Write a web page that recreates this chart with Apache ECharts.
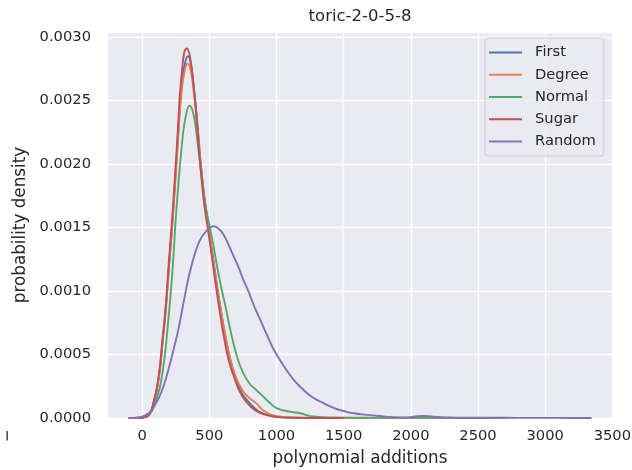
<!DOCTYPE html>
<html>
<head>
<meta charset="utf-8">
<script src="https://cdn.jsdelivr.net/npm/echarts@6/dist/echarts.min.js"></script>
<style>
html,body{margin:0;padding:0;background:#ffffff;}
#chart{width:632px;height:470px;}
</style>
</head>
<body>
<div id="chart"></div>
<script>
const chartTitle = 'toric-2-0-5-8';
const xLabel = 'polynomial additions';
const yLabel = 'probability density';
const seriesNames = ['First', 'Degree', 'Normal', 'Sugar', 'Random'];

const firstX = [-100,-50,0,40,88,125,150,175,200,229,261,294,320,340,360,385,410,435,465,500,530,560,590,620,655,695,740,790,830,870,930,1000,1100,1300,1700];
const firstY = [0,0,0.004e-3,0.014e-3,0.13e-3,0.33e-3,0.58e-3,0.85e-3,1.2e-3,1.6e-3,2.12e-3,2.62e-3,2.80e-3,2.85e-3,2.80e-3,2.60e-3,2.33e-3,2.02e-3,1.72e-3,1.46e-3,1.24e-3,1.02e-3,0.82e-3,0.64e-3,0.46e-3,0.32e-3,0.20e-3,0.13e-3,0.085e-3,0.05e-3,0.025e-3,0.01e-3,0.003e-3,0.001e-3,0];

const degreeX = [-100,-50,0,40,88,125,150,175,200,229,261,294,320,338,360,385,410,435,465,500,530,560,590,620,655,695,745,790,820,850,890,940,1000,1100,1300,1600,2000,2700];
const degreeY = [0,0,0.004e-3,0.014e-3,0.13e-3,0.33e-3,0.58e-3,0.85e-3,1.2e-3,1.6e-3,2.1e-3,2.58e-3,2.75e-3,2.79e-3,2.74e-3,2.56e-3,2.30e-3,2.00e-3,1.71e-3,1.46e-3,1.24e-3,1.02e-3,0.82e-3,0.64e-3,0.47e-3,0.33e-3,0.22e-3,0.165e-3,0.14e-3,0.115e-3,0.07e-3,0.035e-3,0.015e-3,0.005e-3,0.002e-3,0.001e-3,0.0005e-3,0];

const normalX = [-100,-50,0,50,100,150,190,224,256,299,325,353,380,410,440,467,500,530,560,590,620,657,707,750,800,850,900,950,1004,1100,1178,1252,1400,1800,2600];
const normalY = [0,0,0.003e-3,0.02e-3,0.13e-3,0.35e-3,0.72e-3,1.14e-3,1.66e-3,2.19e-3,2.38e-3,2.46e-3,2.40e-3,2.19e-3,1.92e-3,1.70e-3,1.52e-3,1.36e-3,1.18e-3,1.02e-3,0.88e-3,0.69e-3,0.48e-3,0.36e-3,0.27e-3,0.22e-3,0.17e-3,0.12e-3,0.076e-3,0.05e-3,0.037e-3,0.015e-3,0.005e-3,0.002e-3,0];

const sugarX = [-100,-50,0,40,88,125,150,175,200,229,261,294,331,355,380,405,430,460,490,520,550,580,610,645,685,730,780,830,900,1000,1100,1300,1500];
const sugarY = [0,0,0.004e-3,0.015e-3,0.14e-3,0.35e-3,0.61e-3,0.88e-3,1.25e-3,1.66e-3,2.19e-3,2.71e-3,2.91e-3,2.85e-3,2.64e-3,2.36e-3,2.02e-3,1.70e-3,1.48e-3,1.26e-3,1.03e-3,0.82e-3,0.63e-3,0.45e-3,0.32e-3,0.20e-3,0.12e-3,0.07e-3,0.03e-3,0.01e-3,0.002e-3,0.0005e-3,0];

const randomX = [-100,-50,0,50,88,125,162,200,236,270,299,336,360,385,410,435,472,500,533,570,608,645,682,720,756,790,830,880,930,979,1054,1128,1202,1260,1326,1425,1500,1574,1673,1747,1871,1950,2020,2094,2170,2260,2400,2600,2800,3000,3200,3345];
const randomY = [0,0.002e-3,0.01e-3,0.04e-3,0.09e-3,0.16e-3,0.26e-3,0.40e-3,0.55e-3,0.70e-3,0.86e-3,1.06e-3,1.17e-3,1.27e-3,1.35e-3,1.41e-3,1.465e-3,1.495e-3,1.51e-3,1.49e-3,1.44e-3,1.36e-3,1.27e-3,1.18e-3,1.08e-3,1.00e-3,0.89e-3,0.77e-3,0.65e-3,0.54e-3,0.41e-3,0.30e-3,0.22e-3,0.17e-3,0.13e-3,0.08e-3,0.055e-3,0.037e-3,0.025e-3,0.018e-3,0.006e-3,0.005e-3,0.01e-3,0.016e-3,0.01e-3,0.005e-3,0.002e-3,0.002e-3,0.001e-3,0.001e-3,0.0005e-3,0];

const xTicks = [0,500,1000,1500,2000,2500,3000,3500];
const yTicks = [0,0.0005,0.0010,0.0015,0.0020,0.0025,0.0030];

const colors = ['#4C72B0','#DD8452','#55A868','#C44E52','#8172B3'];
const seriesX = [firstX, degreeX, normalX, sugarX, randomX];
const seriesY = [firstY, degreeY, normalY, sugarY, randomY];

const textColor = '#262626';
const fontFamily = '"DejaVu Sans", sans-serif';

function pairs(xs, ys){ return xs.map((x,i)=>[x, ys[i]]); }

const chart = echarts.init(document.getElementById('chart'), null, {renderer:'canvas'});
chart.setOption({
  animation:false,
  backgroundColor:'#ffffff',
  color: colors,
  title:{
    text: chartTitle, left: 360, top: 8, textAlign:'center', padding:0,
    textStyle:{color:textColor, fontSize:16.5, fontWeight:'normal', fontFamily:fontFamily}
  },
  grid:{left:107, right:19, top:32, bottom:52, show:true, backgroundColor:'#EAEAF2', borderWidth:0,
    containLabel:false, outerBoundsMode:'none'},
  legend:{
    data: seriesNames,
    orient:'vertical', left:485, top:38,
    padding:[6,8,6,4],
    icon:'rect',
    itemWidth:33, itemHeight:2, itemGap:5.25,
    backgroundColor:'rgba(234,234,242,0.8)',
    borderColor:'#cccccc', borderWidth:1, borderRadius:3,
    textStyle:{color:textColor, fontSize:14.7, lineHeight:17, fontFamily:fontFamily, padding:[0,0,0,8]}
  },
  xAxis:{
    type:'value', min:-262, max:3505, minInterval:500, maxInterval:500,
    name:xLabel, nameLocation:'middle', nameGap:32.5,
    nameTextStyle:{color:textColor, fontSize:16.8, fontFamily:fontFamily},
    axisLine:{show:false}, axisTick:{show:false},
    axisLabel:{color:textColor, fontSize:14.7, fontFamily:fontFamily, margin:11,
      formatter:function(v){ return xTicks.indexOf(v) >= 0 ? String(v) : ''; }},
    splitLine:{show:true, lineStyle:{color:'#ffffff', width:1.3}}
  },
  yAxis:{
    type:'value', min:0, max:0.00304, minInterval:0.0005, maxInterval:0.0005,
    name:yLabel, nameLocation:'middle', nameGap:78, nameRotate:90,
    nameTextStyle:{color:textColor, fontSize:16.8, fontFamily:fontFamily},
    axisLine:{show:false}, axisTick:{show:false},
    axisLabel:{color:textColor, fontSize:14.7, fontFamily:fontFamily, margin:16,
      formatter:function(v){
        for (const t of yTicks){ if (Math.abs(v - t) < 1e-9) return t.toFixed(4); }
        return '';
      }},
    splitLine:{show:true, lineStyle:{color:'#ffffff', width:1.3}}
  },
  graphic:[{
    type:'rect', left:6.5, top:431,
    shape:{width:1.4, height:9.5},
    style:{fill:'#3a3a3a'}
  }],
  series: seriesNames.map((name,i)=>({
    name:name, type:'line', data:pairs(seriesX[i], seriesY[i]),
    showSymbol:false, symbol:'none', smooth:0.5,
    lineStyle:{width:1.9, color:colors[i]}, itemStyle:{color:colors[i]},
    z: 2 + i
  }))
});
</script>
</body>
</html>
